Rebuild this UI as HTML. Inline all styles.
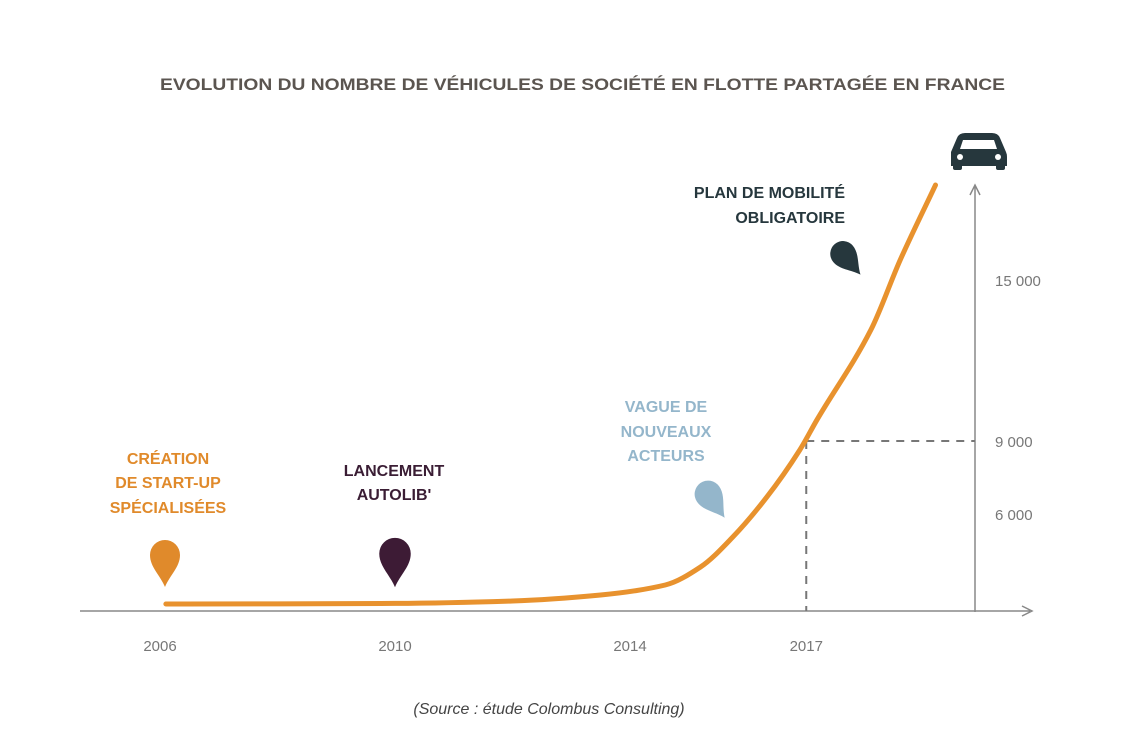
<!DOCTYPE html>
<html><head><meta charset="utf-8"><style>
html,body{margin:0;padding:0;background:#fff}
svg{display:block}
.t{font-family:"Liberation Sans",sans-serif;font-weight:bold}
</style></head><body>
<svg id="c" width="1124" height="754" viewBox="0 0 1124 754" xmlns="http://www.w3.org/2000/svg">
<text class="t" x="160" y="90" font-size="17" fill="#5b5550" textLength="845" lengthAdjust="spacingAndGlyphs">EVOLUTION DU NOMBRE DE VÉHICULES DE SOCIÉTÉ EN FLOTTE PARTAGÉE EN FRANCE</text>
<g id="axes"></g>
<g id="marks"></g>
<g fill="#26373d">
<path d="M951,152 L957,138 Q959,133 965,133 L992,133 Q998,133 1000,138 L1006,152 Q1007,154 1007,157 L1007,166 L951,166 L951,157 Q951,154 951,152Z"/>
<rect x="953" y="164" width="9" height="6" rx="2"/><rect x="996" y="164" width="9" height="6" rx="2"/>
<path d="M960,149 L963,140 L994,140 L997,149Z" fill="#fff"/>
<circle cx="960" cy="157" r="3" fill="#fff"/><circle cx="998" cy="157" r="3" fill="#fff"/>
</g>
<g class="t" font-size="16" text-anchor="middle">
<text fill="#e08a2b"><tspan x="168" y="464">CRÉATION</tspan><tspan x="168" y="488">DE START-UP</tspan><tspan x="168" y="513">SPÉCIALISÉES</tspan></text>
<text fill="#3a1d34"><tspan x="394" y="476">LANCEMENT</tspan><tspan x="394" y="500">AUTOLIB'</tspan></text>
<text fill="#94b6cb"><tspan x="666" y="412">VAGUE DE</tspan><tspan x="666" y="437">NOUVEAUX</tspan><tspan x="666" y="461">ACTEURS</tspan></text>
<text fill="#26373d" text-anchor="end"><tspan x="845" y="198">PLAN DE MOBILITÉ</tspan><tspan x="845" y="223">OBLIGATOIRE</tspan></text>
</g>
<text x="549" y="714" text-anchor="middle" font-family="Liberation Sans,sans-serif" font-style="italic" font-size="16" fill="#444">(Source : étude Colombus Consulting)</text>
</svg>
<script>
const years=[2006.1,2008,2010,2012,2013.5,2014.6,2015.2,2015.75,2016.33,2016.89,2017.18,2018.1,2018.6,2019.2];
const values=[433,440,470,620,990,1608,2722,4577,6700,8630,9780,13140,15750,18540];
const xTicks=[2006,2010,2014,2017];
const yTicks=[6000,9000,15000];
const yTickLabels=["6 000","9 000","15 000"];
const highlightYear=2017, highlightValue=9000;
const pinYears=[2006,2010,2015.4,2017.7];
const x=v=>160+(v-2006)*58.75;
const yDom=[0,6000,9000,15000],yRng=[611,514,441,280];
const y=v=>{let i=0;while(i<yDom.length-2&&v>yDom[i+1])i++;return yRng[i]+(v-yDom[i])*(yRng[i+1]-yRng[i])/(yDom[i+1]-yDom[i]);};
const NS="http://www.w3.org/2000/svg";
function el(tag,attrs,parent){const e=document.createElementNS(NS,tag);for(const k in attrs)e.setAttribute(k,attrs[k]);parent.appendChild(e);return e;}
const ax=document.getElementById('axes'),mk=document.getElementById('marks');
let a=el('path',{d:'M80,611 L1030,611 M1022,606 L1032,611 L1022,616',stroke:'#888','stroke-width':1.5,fill:'none'},ax);

a=el('path',{d:'M975,612 L975,186 M970,195 L975,185 L980,195',stroke:'#888','stroke-width':1.5,fill:'none'},ax);

xTicks.forEach(t=>{const e=el('text',{x:x(t),y:651,'text-anchor':'middle','font-family':'Liberation Sans,sans-serif','font-size':15,fill:'#777'},ax);e.textContent=t;
});
yTicks.forEach((t,i)=>{const e=el('text',{x:995,y:y(t)+6,'font-family':'Liberation Sans,sans-serif','font-size':15,fill:'#777'},ax);e.textContent=yTickLabels[i];
});
a=el('path',{d:`M${x(highlightYear)},${y(highlightValue)} L975,${y(highlightValue)} M${x(highlightYear)},${y(highlightValue)} L${x(highlightYear)},611`,stroke:'#777','stroke-width':2,'stroke-dasharray':'8 7',fill:'none'},ax);

const P=years.map((yr,i)=>[x(yr),y(values[i])]);
const n=P.length,dk=[],m=[];
for(let i=0;i<n-1;i++)dk.push((P[i+1][1]-P[i][1])/(P[i+1][0]-P[i][0]));
m[0]=dk[0];m[n-1]=dk[n-2];
for(let i=1;i<n-1;i++)m[i]=(dk[i-1]*dk[i]<=0)?0:2/(1/dk[i-1]+1/dk[i]);
let d=`M${P[0][0]},${P[0][1]}`;
for(let i=0;i<n-1;i++){const h=(P[i+1][0]-P[i][0])/3;
d+=` C${P[i][0]+h},${P[i][1]+m[i]*h} ${P[i+1][0]-h},${P[i+1][1]-m[i+1]*h} ${P[i+1][0]},${P[i+1][1]}`;}
a=el('path',{d:d,stroke:'#e8922e','stroke-width':5,fill:'none','stroke-linecap':'round'},mk);

const pinColors=['#e08a2b','#3d1b35','#94b6cb','#26373d'];
const pinNames=['pin-creation','pin-autolib','pin-vague','pin-plan-mobilite'];
const pinY=[563,562,500,259],pinRot=[0,0,-35,-40],pinScale=[1,1.05,0.9,0.85];
const pinD='M0,24 C-5,12 -15,4 -15,-8 A15,15 0 1 1 15,-8 C15,4 5,12 0,24Z';
pinYears.forEach((py,i)=>{const e=el('path',{d:pinD,fill:pinColors[i],transform:`translate(${x(py)+(i==0?5:0)},${pinY[i]}) rotate(${pinRot[i]}) scale(${pinScale[i]})`},mk);
});
</script>
</body></html>
